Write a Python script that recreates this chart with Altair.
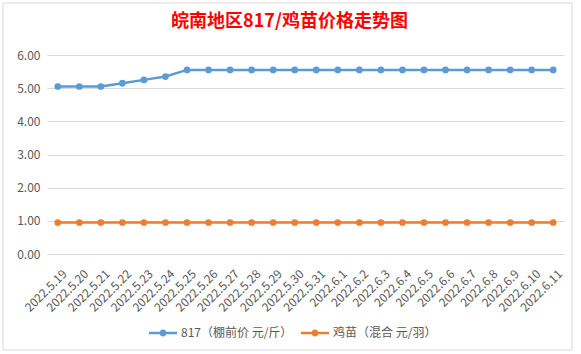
import altair as alt
import pandas as pd

dates = [
    "2022.5.19", "2022.5.20", "2022.5.21", "2022.5.22", "2022.5.23", "2022.5.24",
    "2022.5.25", "2022.5.26", "2022.5.27", "2022.5.28", "2022.5.29", "2022.5.30",
    "2022.5.31", "2022.6.1", "2022.6.2", "2022.6.3", "2022.6.4", "2022.6.5",
    "2022.6.6", "2022.6.7", "2022.6.8", "2022.6.9", "2022.6.10", "2022.6.11",
]
price_817 = [
    5.05, 5.05, 5.05, 5.15, 5.25, 5.35,
    5.55, 5.55, 5.55, 5.55, 5.55, 5.55,
    5.55, 5.55, 5.55, 5.55, 5.55, 5.55,
    5.55, 5.55, 5.55, 5.55, 5.55, 5.55,
]
price_chick = [
    0.95, 0.95, 0.95, 0.95, 0.95, 0.95,
    0.95, 0.95, 0.95, 0.95, 0.95, 0.95,
    0.95, 0.95, 0.95, 0.95, 0.95, 0.95,
    0.95, 0.95, 0.95, 0.95, 0.95, 0.95,
]
series = ["817（棚前价 元/斤）", "鸡苗（混合 元/羽）"]
colors = ["#5B9BD5", "#ED7D31"]
y_ticks = [0, 1, 2, 3, 4, 5, 6]

rows = []
for name, vals in zip(series, [price_817, price_chick]):
    for d, v in zip(dates, vals):
        rows.append({"日期": d, "价格": v, "系列": name})
df = pd.DataFrame(rows)

FONT = "Noto Sans CJK SC"
LABEL_COLOR = "#595959"

symbol_path = (
    "M-1,-0.09 L1,-0.09 L1,0.09 L-1,0.09 Z "
    "M-0.25,0 A0.25,0.25 0 1,1 0.25,0 A0.25,0.25 0 1,1 -0.25,0 Z"
)

base = alt.Chart(df).encode(
    x=alt.X(
        "日期:N",
        sort=dates,
        axis=alt.Axis(
            title=None,
            labelAngle=-45,
            labelFont=FONT,
            labelFontSize=12,
            labelColor=LABEL_COLOR,
            labelPadding=14,
            labelOffset=3,
            ticks=False,
            domain=False,
            grid=False,
            labelOverlap=False,
        ),
    ),
    y=alt.Y(
        "价格:Q",
        scale=alt.Scale(domain=[0, 6], nice=False),
        axis=alt.Axis(
            title=None,
            values=y_ticks,
            format=".2f",
            labelFont=FONT,
            labelFontSize=12,
            labelColor=LABEL_COLOR,
            labelPadding=7,
            ticks=False,
            domain=False,
            grid=True,
            gridColor="#D9D9D9",
            gridWidth=1,
        ),
    ),
    color=alt.Color(
        "系列:N",
        scale=alt.Scale(domain=series, range=colors),
        legend=alt.Legend(
            title=None,
            orient="none",
            direction="horizontal",
            legendX=102,
            legendY=264,
            symbolType=symbol_path,
            symbolSize=784,
            symbolStrokeWidth=0,
            symbolOpacity=1,
            labelFont=FONT,
            labelFontSize=12,
            labelColor=LABEL_COLOR,
            labelOffset=4,
            columnPadding=8,
        ),
    ),
)

lines = base.mark_line(strokeWidth=2.5)
points = base.mark_point(filled=True, size=45, opacity=1)

frame = alt.Chart(pd.DataFrame({"k": [0]})).mark_rect(
    fill=None, stroke="#D9D9D9", strokeWidth=1
).encode(
    x=alt.value(-44), x2=alt.value(525), y=alt.value(-52), y2=alt.value(295)
)

chart = (
    alt.layer(frame, lines, points)
    .properties(
        width=517,
        height=199,
        autosize=alt.AutoSizeParams(type="none"),
        padding={"left": 47, "top": 55, "right": 17, "bottom": 100},
        background="white",
        title=alt.TitleParams(
            text="皖南地区817/鸡苗价格走势图",
            font=FONT,
            fontSize=18,
            fontWeight="bold",
            color="#FF0000",
            anchor="middle",
            offset=-28,
            dx=-16,
        ),
    )
    .configure_view(stroke=None)
)

chart.save("out.html", embed_options={"renderer": "svg", "actions": False})
